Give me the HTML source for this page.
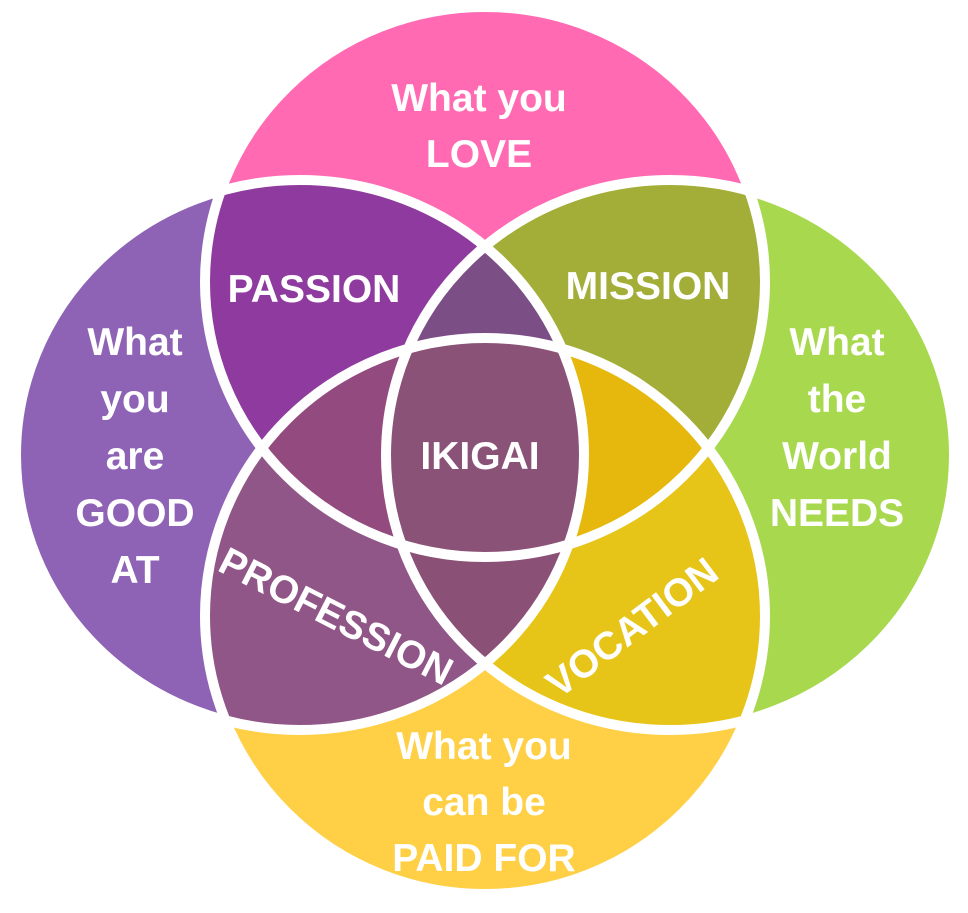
<!DOCTYPE html>
<html><head><meta charset="utf-8"><style>
html,body{margin:0;padding:0;background:#fff;}
svg{display:block}
text{font-family:"Liberation Sans",sans-serif;font-weight:bold;fill:#fff;font-size:39px;text-anchor:middle}
</style></head><body>
<svg width="968" height="913" viewBox="0 0 968 913" xmlns="http://www.w3.org/2000/svg">
<defs>
<clipPath id="cT"><ellipse cx="485" cy="282" rx="280" ry="275"/></clipPath>
<clipPath id="cB"><ellipse cx="485" cy="616" rx="280" ry="278"/></clipPath>
<clipPath id="cL"><ellipse cx="300" cy="455" rx="284" ry="275"/></clipPath>
<clipPath id="cR"><ellipse cx="670" cy="455" rx="284" ry="275"/></clipPath>
</defs>
<ellipse cx="485" cy="282" rx="280" ry="275" fill="#FF6AB3"/>
<ellipse cx="485" cy="616" rx="280" ry="278" fill="#FFCF45"/>
<ellipse cx="300" cy="455" rx="284" ry="275" fill="#8E63B6"/>
<ellipse cx="670" cy="455" rx="284" ry="275" fill="#A8D84E"/>
<g clip-path="url(#cT)"><rect width="968" height="913" fill="#8E3A9E" clip-path="url(#cL)"/></g>
<g clip-path="url(#cT)"><rect width="968" height="913" fill="#A3AE38" clip-path="url(#cR)"/></g>
<g clip-path="url(#cB)"><rect width="968" height="913" fill="#905687" clip-path="url(#cL)"/></g>
<g clip-path="url(#cB)"><rect width="968" height="913" fill="#E6C418" clip-path="url(#cR)"/></g>
<g clip-path="url(#cL)"><rect width="968" height="913" fill="#8A5075" clip-path="url(#cR)"/></g>
<g clip-path="url(#cT)"><g clip-path="url(#cL)"><rect width="968" height="913" fill="#7B4E85" clip-path="url(#cR)"/></g></g>
<g clip-path="url(#cT)"><g clip-path="url(#cL)"><rect width="968" height="913" fill="#934A7E" clip-path="url(#cB)"/></g></g>
<g clip-path="url(#cT)"><g clip-path="url(#cR)"><rect width="968" height="913" fill="#E6B80E" clip-path="url(#cB)"/></g></g>
<g clip-path="url(#cB)"><g clip-path="url(#cL)"><rect width="968" height="913" fill="#8A5075" clip-path="url(#cR)"/></g></g>
<g clip-path="url(#cT)"><g clip-path="url(#cB)"><g clip-path="url(#cL)"><rect width="968" height="913" fill="#8B5278" clip-path="url(#cR)"/></g></g></g>
<g fill="none" stroke="#fff" stroke-width="10">
<ellipse cx="485" cy="282" rx="280" ry="275"/>
<ellipse cx="485" cy="616" rx="280" ry="278"/>
<ellipse cx="300" cy="455" rx="284" ry="275"/>
<ellipse cx="670" cy="455" rx="284" ry="275"/>
</g>
<text x="479" y="111">What you</text>
<text x="479" y="167">LOVE</text>
<text x="135" y="355">What</text>
<text x="135" y="412">you</text>
<text x="135" y="469">are</text>
<text x="135" y="526">GOOD</text>
<text x="135" y="583">AT</text>
<text x="837" y="355">What</text>
<text x="837" y="412">the</text>
<text x="837" y="469">World</text>
<text x="837" y="526">NEEDS</text>
<text x="484" y="759">What you</text>
<text x="484" y="815">can be</text>
<text x="484" y="871">PAID FOR</text>
<text x="314" y="302">PASSION</text>
<text x="648" y="299">MISSION</text>
<text x="480" y="469">IKIGAI</text>
<text transform="translate(330,628) rotate(27)" x="0" y="0">PROFESSION</text>
<text transform="translate(640,638) rotate(-37)" x="0" y="0">VOCATION</text>
</svg>
</body></html>
